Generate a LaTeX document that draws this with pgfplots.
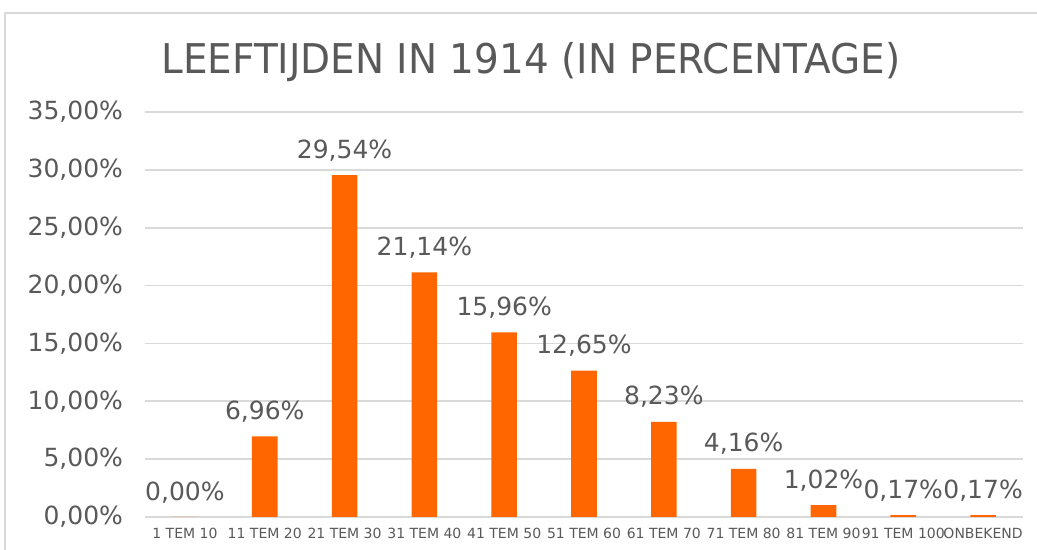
\documentclass[border=0pt]{standalone}
\usepackage{pgfplots}
\pgfplotsset{compat=1.18}
\usepackage{fontspec}
\setmainfont{DejaVu Sans}
\definecolor{barorange}{RGB}{255,102,0}
\definecolor{txtgray}{RGB}{89,89,89}
\definecolor{gridgray}{RGB}{217,217,217}
\begin{document}
\begin{tikzpicture}
% canvas 1037 x 550 px, 1px = 0.5pt, y measured from bottom
\useasboundingbox (0pt,0pt) rectangle (518.5pt,275pt);
\draw[gridgray, line width=1.2pt] (2.5pt,0pt) -- (2.5pt,268.5pt) -- (518.5pt,268.5pt);
\node[txtgray, font=\fontsize{20.5}{24}\selectfont, xscale=0.95] at (265.5pt,244pt) {LEEFTIJDEN IN 1914 (IN PERCENTAGE)};
\begin{axis}[
    at={(72.5pt,16.5pt)}, anchor=south west,
    scale only axis,
    width=439pt, height=202.5pt,
    xmin=-0.5, xmax=10.5,
    ymin=0, ymax=35,
    xtick={0,...,10},
    xticklabels={1 TEM 10, 11 TEM 20, 21 TEM 30, 31 TEM 40, 41 TEM 50, 51 TEM 60, 61 TEM 70, 71 TEM 80, 81 TEM 90, 91 TEM 100, ONBEKEND},
    ytick={0,5,...,35},
    yticklabel={\pgfmathprintnumber[fixed, fixed zerofill, precision=2, use comma]{\tick}\%},
    /pgf/number format/assume math mode=true,
    axis line style={draw=none},
    axis x line*=bottom,
    x axis line style={draw=gridgray, line width=0.8pt},
    major tick length=0pt,
    ymajorgrids,
    grid style={gridgray, line width=0.8pt},
    yticklabel style={txtgray, font=\fontsize{12.5}{14}\selectfont, xshift=-7.5pt},
    xticklabel style={txtgray, font=\fontsize{7}{8}\selectfont, yshift=-2pt},
    nodes near coords={\pgfmathprintnumber[fixed, fixed zerofill, precision=2, use comma]{\pgfplotspointmeta}\%},
    nodes near coords style={txtgray, font=\fontsize{12.5}{14}\selectfont, yshift=3.5pt},
    clip=false,
]
\addplot[ybar, bar width=12.8pt, fill=barorange, draw=none] coordinates {
(0,0) (1,6.96) (2,29.54) (3,21.14) (4,15.96) (5,12.65) (6,8.23) (7,4.16) (8,1.02) (9,0.17) (10,0.17)
};
\end{axis}
\end{tikzpicture}
\end{document}
